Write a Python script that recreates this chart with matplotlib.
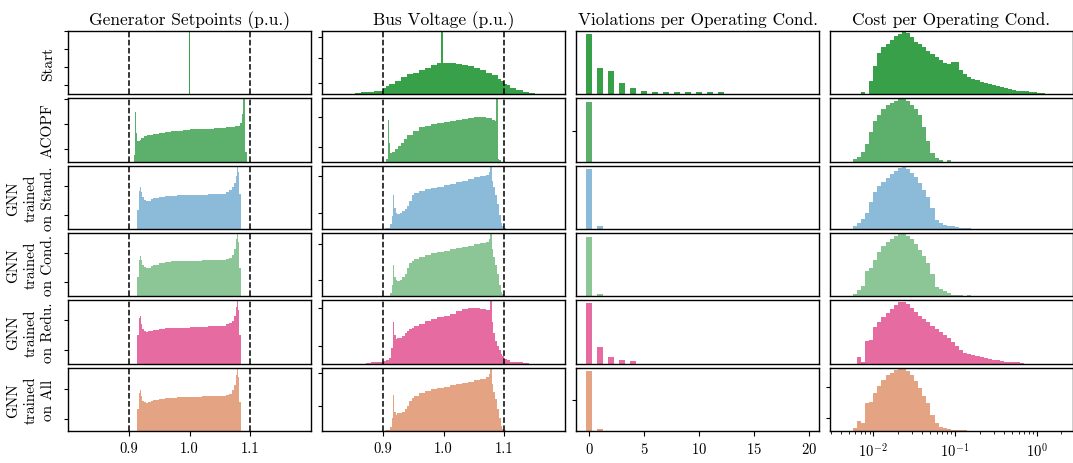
import numpy as np
import matplotlib.pyplot as plt

plt.rcParams['font.family'] = 'cmr10'
plt.rcParams['mathtext.fontset'] = 'cm'
plt.rcParams['axes.formatter.use_mathtext'] = True
plt.rcParams['font.size'] = 11

col_titles = ["Generator Setpoints (p.u.)", "Bus Voltage (p.u.)",
              "Violations per Operating Cond.", "Cost per Operating Cond."]
row_names = ["Start", "ACOPF", "GNN\ntrained\non Stand.", "GNN\ntrained\non Cond.",
             "GNN\ntrained\non Redu.", "GNN\ntrained\non All"]
colors = ["#38a048", "#5cb06b", "#8cbbd9", "#8cc697", "#e66ba0", "#e4a382"]

# relative bar heights (1.0 = panel top)

# generator setpoints
gen_edges_start = [0.9985, 1.0015]
gen_start = [1.05]
gen_edges_acopf = [0.908, 0.910, 0.912, 0.914, 0.916, 0.918, 0.920, 0.925, 0.930, 0.940,
                   0.950, 0.960, 0.970, 0.980, 0.990, 1.000, 1.010, 1.020, 1.030, 1.040,
                   1.050, 1.060, 1.070, 1.075, 1.080, 1.083, 1.086, 1.088, 1.090, 1.092, 1.094]
gen_acopf = [0.10, 0.79, 0.45, 0.33, 0.32, 0.35, 0.37, 0.40, 0.42, 0.44,
             0.46, 0.47, 0.48, 0.49, 0.50, 0.51, 0.51, 0.52, 0.52, 0.53,
             0.53, 0.54, 0.55, 0.56, 0.57, 0.61, 0.75, 1.05, 1.05, 0.15]
gen_edges_gnn = [0.914, 0.916, 0.918, 0.920, 0.922, 0.925, 0.928, 0.932, 0.936, 0.940,
                 0.950, 0.960, 0.970, 0.980, 0.990, 1.000, 1.010, 1.020, 1.030, 1.040,
                 1.050, 1.060, 1.065, 1.070, 1.073, 1.076, 1.078, 1.080, 1.082, 1.084, 1.085]
gen_stand = [0.30, 0.60, 0.66, 0.58, 0.50, 0.46, 0.44, 0.45, 0.47, 0.49,
             0.51, 0.52, 0.52, 0.53, 0.53, 0.54, 0.54, 0.54, 0.545, 0.55,
             0.56, 0.58, 0.61, 0.66, 0.72, 0.84, 1.05, 0.90, 0.55, 0.20]
gen_cond = [0.30, 0.58, 0.64, 0.57, 0.50, 0.46, 0.44, 0.45, 0.48, 0.50,
            0.52, 0.54, 0.55, 0.55, 0.55, 0.56, 0.56, 0.57, 0.57, 0.58,
            0.58, 0.59, 0.61, 0.66, 0.74, 0.90, 1.05, 0.85, 0.45, 0.10]
gen_redu = [0.45, 0.72, 0.75, 0.62, 0.54, 0.51, 0.505, 0.51, 0.52, 0.53,
            0.55, 0.56, 0.56, 0.57, 0.57, 0.58, 0.58, 0.58, 0.59, 0.59,
            0.60, 0.62, 0.64, 0.68, 0.75, 0.90, 1.05, 0.85, 0.45, 0.10]
gen_all = [0.35, 0.60, 0.65, 0.55, 0.48, 0.45, 0.44, 0.45, 0.47, 0.49,
           0.51, 0.52, 0.52, 0.53, 0.53, 0.54, 0.54, 0.55, 0.55, 0.56,
           0.56, 0.57, 0.59, 0.64, 0.72, 0.88, 1.05, 0.85, 0.45, 0.10]

# bus voltage
bus_edges_start = [0.845, 0.855, 0.865, 0.875, 0.885, 0.895, 0.900, 0.905, 0.910, 0.920,
                   0.930, 0.940, 0.950, 0.960, 0.970, 0.980, 0.990, 0.9965, 0.9995, 1.000,
                   1.010, 1.020, 1.030, 1.040, 1.050, 1.060, 1.070, 1.080, 1.090, 1.095,
                   1.100, 1.105, 1.110, 1.120, 1.130, 1.140, 1.150, 1.155]
bus_start = [0.01, 0.02, 0.03, 0.04, 0.05, 0.06, 0.10, 0.13, 0.16, 0.21,
             0.28, 0.32, 0.34, 0.38, 0.42, 0.46, 0.49, 1.05, 0.50, 0.50,
             0.49, 0.48, 0.47, 0.45, 0.42, 0.38, 0.34, 0.30, 0.24, 0.21,
             0.17, 0.14, 0.10, 0.07, 0.04, 0.02, 0.01]
bus_edges_acopf = [0.906, 0.908, 0.910, 0.912, 0.915, 0.920, 0.925, 0.930, 0.935, 0.940,
                   0.950, 0.960, 0.970, 0.980, 0.990, 1.000, 1.010, 1.020, 1.030, 1.040,
                   1.050, 1.060, 1.070, 1.080, 1.085, 1.087, 1.090, 1.092, 1.094]
bus_acopf = [0.05, 0.66, 0.30, 0.14, 0.16, 0.20, 0.25, 0.30, 0.36, 0.42,
             0.49, 0.54, 0.57, 0.59, 0.61, 0.63, 0.64, 0.66, 0.68, 0.69,
             0.70, 0.70, 0.69, 0.66, 0.64, 1.05, 0.05, 0.02]
bus_edges_gnn = [0.904, 0.912, 0.915, 0.917, 0.919, 0.921, 0.924, 0.928, 0.932, 0.936,
                 0.940, 0.944, 0.948, 0.952, 0.960, 0.970, 0.980, 0.990, 1.000, 1.010,
                 1.020, 1.030, 1.040, 1.050, 1.060, 1.070, 1.075, 1.077, 1.079, 1.082,
                 1.085, 1.088, 1.091, 1.094, 1.097, 1.100, 1.103]
bus_stand = [0.01, 0.08, 0.20, 0.53, 0.33, 0.25, 0.23, 0.25, 0.28, 0.31,
             0.36, 0.45, 0.53, 0.57, 0.60, 0.63, 0.65, 0.67, 0.69, 0.71,
             0.74, 0.76, 0.79, 0.82, 0.84, 0.86, 0.90, 1.00, 0.76, 0.66,
             0.53, 0.40, 0.22, 0.10, 0.04, 0.01]
bus_cond = [0.01, 0.06, 0.18, 0.50, 0.31, 0.25, 0.24, 0.26, 0.30, 0.36,
            0.45, 0.52, 0.56, 0.59, 0.62, 0.65, 0.68, 0.70, 0.72, 0.74,
            0.76, 0.78, 0.80, 0.83, 0.84, 0.85, 0.90, 1.00, 0.75, 0.62,
            0.50, 0.35, 0.18, 0.07, 0.03, 0.01]
bus_all = [0.01, 0.06, 0.20, 0.57, 0.30, 0.26, 0.28, 0.29, 0.30, 0.34,
           0.40, 0.47, 0.52, 0.55, 0.60, 0.63, 0.66, 0.68, 0.70, 0.72,
           0.74, 0.76, 0.78, 0.80, 0.82, 0.85, 0.90, 1.00, 0.74, 0.62,
           0.50, 0.35, 0.20, 0.08, 0.03, 0.01]
bus_edges_redu = [0.872, 0.880, 0.890, 0.900, 0.905, 0.910, 0.914, 0.917, 0.919, 0.921,
                  0.924, 0.928, 0.932, 0.936, 0.940, 0.944, 0.948, 0.952, 0.960, 0.970,
                  0.980, 0.990, 1.000, 1.010, 1.020, 1.030, 1.040, 1.050, 1.060, 1.070,
                  1.075, 1.077, 1.079, 1.082, 1.085, 1.088, 1.091, 1.094, 1.097, 1.100,
                  1.105, 1.110, 1.120, 1.130, 1.140]
bus_redu = [0.01, 0.02, 0.03, 0.04, 0.06, 0.09, 0.25, 0.66, 0.45, 0.39,
            0.40, 0.41, 0.44, 0.48, 0.51, 0.54, 0.56, 0.59, 0.63, 0.67,
            0.70, 0.73, 0.76, 0.79, 0.83, 0.86, 0.88, 0.88, 0.86, 0.84,
            0.84, 1.00, 0.65, 0.48, 0.36, 0.28, 0.22, 0.16, 0.12, 0.08,
            0.05, 0.03, 0.02, 0.01]

# violations per operating condition (index = number of violations)
viol_start = [0.95, 0.42, 0.37, 0.18, 0.10, 0.05, 0.03, 0.03, 0.03, 0.03, 0.03, 0.03, 0.03]
viol_acopf = [0.94]
viol_stand = [0.94, 0.05]
viol_cond = [0.94, 0.03]
viol_redu = [0.95, 0.26, 0.11, 0.05, 0.04]
viol_all = [0.95, 0.03]

# cost per operating condition, log10 bins of 0.05 starting at cost_first_bin
cost_first_bin = [-2.15, -2.25, -2.25, -2.25, -2.20, -2.25]
cost_start = [0.04, 0.00, 0.21, 0.45, 0.66, 0.74, 0.80, 0.86, 0.92, 0.96,
              0.99, 0.97, 0.90, 0.83, 0.79, 0.74, 0.69, 0.64, 0.59, 0.55,
              0.49, 0.48, 0.51, 0.51, 0.39, 0.32, 0.28, 0.25, 0.22, 0.20,
              0.18, 0.16, 0.14, 0.13, 0.11, 0.10, 0.08, 0.07, 0.06, 0.05,
              0.05, 0.04, 0.03, 0.02, 0.02, 0.01]
cost_acopf = [0.04, 0.08, 0.16, 0.28, 0.47, 0.64, 0.74, 0.83, 0.89, 0.93,
              0.96, 0.99, 0.99, 0.96, 0.90, 0.83, 0.74, 0.55, 0.32, 0.14,
              0.06, 0.03, 0.00, 0.02]
cost_stand = [0.04, 0.09, 0.16, 0.25, 0.43, 0.58, 0.68, 0.74, 0.81, 0.87,
              0.92, 0.96, 0.99, 0.95, 0.89, 0.82, 0.73, 0.62, 0.50, 0.33,
              0.14, 0.10, 0.06, 0.05, 0.04, 0.03, 0.02, 0.01, 0.01]
cost_cond = [0.03, 0.10, 0.17, 0.40, 0.45, 0.58, 0.70, 0.80, 0.86, 0.91,
             0.95, 0.98, 0.99, 0.96, 0.90, 0.83, 0.73, 0.64, 0.52, 0.36,
             0.15, 0.11, 0.08, 0.05, 0.02, 0.02, 0.02, 0.01, 0.02]
cost_redu = [0.10, 0.03, 0.35, 0.38, 0.58, 0.66, 0.73, 0.80, 0.87, 0.93,
             0.97, 0.98, 0.94, 0.88, 0.81, 0.75, 0.70, 0.65, 0.60, 0.55,
             0.50, 0.45, 0.40, 0.34, 0.28, 0.21, 0.17, 0.15, 0.13, 0.12,
             0.10, 0.09, 0.07, 0.06, 0.05, 0.04, 0.03, 0.02, 0.02, 0.02, 0.01]
cost_all = [0.04, 0.16, 0.13, 0.44, 0.46, 0.60, 0.71, 0.80, 0.88, 0.92,
            0.96, 0.98, 0.99, 0.95, 0.88, 0.79, 0.68, 0.56, 0.44, 0.25,
            0.12, 0.06, 0.04, 0.03, 0.02, 0.02, 0.02, 0.01]

gen_data = [(gen_edges_start, gen_start), (gen_edges_acopf, gen_acopf),
            (gen_edges_gnn, gen_stand), (gen_edges_gnn, gen_cond),
            (gen_edges_gnn, gen_redu), (gen_edges_gnn, gen_all)]
bus_data = [(bus_edges_start, bus_start), (bus_edges_acopf, bus_acopf),
            (bus_edges_gnn, bus_stand), (bus_edges_gnn, bus_cond),
            (bus_edges_redu, bus_redu), (bus_edges_gnn, bus_all)]
viol_data = [viol_start, viol_acopf, viol_stand, viol_cond, viol_redu, viol_all]
cost_data = [cost_start, cost_acopf, cost_stand, cost_cond, cost_redu, cost_all]

# unlabeled y tick marks (fraction of panel height)
ytick_marks = [
    [[0.14, 0.43, 0.72, 1.0], [0.18, 0.58, 0.90], [], []],
    [[0.20, 0.60, 0.99], [0.23, 0.71], [0.48], []],
    [[0.22, 0.68], [0.26, 0.83], [], []],
    [[0.22, 0.68], [0.26, 0.83], [], []],
    [[0.22, 0.69], [0.28, 0.88], [], []],
    [[0.19, 0.66], [0.40, 0.92], [0.49], [0.21, 0.69]],
]

fig, axes = plt.subplots(6, 4, figsize=(10.73, 4.64), dpi=100,
                         gridspec_kw=dict(left=0.0634, right=1.0, top=0.931, bottom=0.069,
                                          wspace=0.045, hspace=0.063))

for r in range(6):
    c = colors[r]
    # generator setpoints
    ax = axes[r, 0]
    edges, h = gen_data[r]
    ax.stairs(h, edges, fill=True, color=c, lw=0.4)
    # bus voltage
    ax = axes[r, 1]
    edges, h = bus_data[r]
    ax.stairs(h, edges, fill=True, color=c, lw=0.4)
    for ax in axes[r, :2]:
        ax.axvline(0.9, color='k', ls='--', lw=1.1, zorder=3)
        ax.axvline(1.1, color='k', ls='--', lw=1.1, zorder=3)
        ax.set_xlim(0.8, 1.2)
    # violations
    ax = axes[r, 2]
    v = viol_data[r]
    ax.bar(np.arange(len(v)), v, width=0.5, color=c, lw=0)
    ax.set_xlim(-1.2, 20.9)
    # cost
    ax = axes[r, 3]
    h = cost_data[r]
    log_edges = cost_first_bin[r] + 0.05 * np.arange(len(h) + 1)
    ax.stairs(h, 10 ** log_edges, fill=True, color=c, lw=0)
    ax.set_xscale('log')
    ax.set_xlim(10 ** -2.53, 10 ** 0.444)

    for j in range(4):
        ax = axes[r, j]
        ax.set_ylim(0, 1)
        ax.set_yticks(ytick_marks[r][j])
        ax.set_yticklabels([])
        ax.tick_params(axis='y', direction='out', length=3, width=0.8)
        for s in ax.spines.values():
            s.set_linewidth(1.0)
        if r < 5:
            ax.tick_params(axis='x', which='both', bottom=False, labelbottom=False)
        else:
            ax.tick_params(axis='x', which='major', direction='out', length=3.5, width=0.8,
                           pad=4, labelsize=10.5)
            ax.tick_params(axis='x', which='minor', direction='out', length=2, width=0.6)
        if r == 0:
            ax.set_title(col_titles[j], fontsize=12.5, pad=5)
    axes[r, 0].set_ylabel(row_names[r], fontsize=11, multialignment='center',
                          linespacing=1.35, labelpad=3)

for ax in axes[5, :2]:
    ax.set_xticks([0.9, 1.0, 1.1])
    ax.set_xticklabels(["0.9", "1.0", "1.1"])
axes[5, 2].set_xticks([0, 5, 10, 15, 20])

fig.savefig("out.png", dpi=100)
